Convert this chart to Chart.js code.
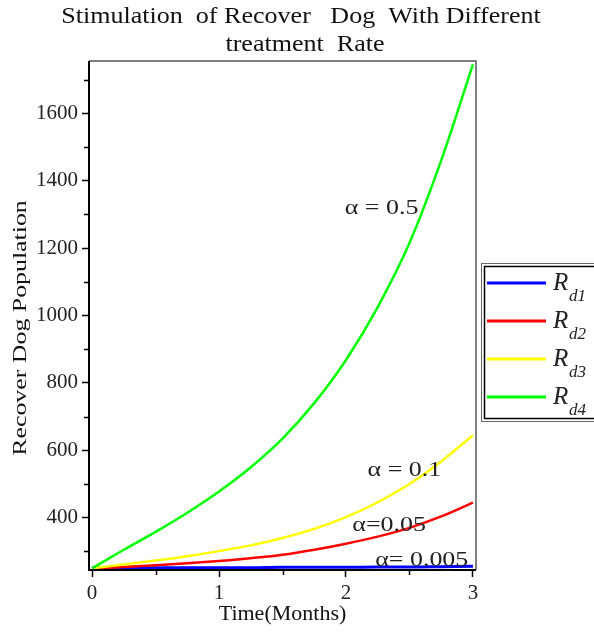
<!DOCTYPE html>
<html>
<head>
<meta charset="utf-8">
<script src="https://cdn.jsdelivr.net/npm/chart.js@4.4.1/dist/chart.umd.min.js"></script>
<style>
  html, body { margin: 0; padding: 0; background: #fff; }
  #wrap { width: 594px; height: 632px; }
</style>
</head>
<body>
<div id="wrap"><canvas id="dogChart" width="594" height="632"></canvas></div>
<script>
// time in months
var months = [0, 0.25, 0.5, 0.75, 1, 1.25, 1.5, 1.75, 2, 2.25, 2.5, 2.75, 3];

// recovered dog population, one list per treatment rate
var rd1 = [252, 252, 252, 252, 252, 252, 253, 253, 253, 254, 254, 255, 256];      // alpha = 0.005
var rd2 = [250, 254, 259, 265, 272, 280, 290, 305, 323, 344, 370, 404, 445];      // alpha = 0.05
var rd3 = [250, 261, 273, 286, 301, 318, 340, 367, 402, 446, 500, 567, 645];      // alpha = 0.1
var rd4 = [250, 305, 358, 415, 478, 550, 635, 740, 868, 1025, 1215, 1460, 1745];  // alpha = 0.5

var seriesSubs = ["d1", "d2", "d3", "d4"];
var seriesColors = ["#0000ff", "#ff0000", "#ffff00", "#00ff00"];
var alphaLabels = ["\u03b1= 0.005", "\u03b1=0.05", "\u03b1 = 0.1", "\u03b1 = 0.5"];

var xTicks = [0, 1, 2, 3];
var yTicks = [400, 600, 800, 1000, 1200, 1400, 1600];

var serif = "'Liberation Serif', 'Times New Roman', serif";

function toPoints(vals) {
    return months.map(function (m, i) { return { x: m, y: vals[i] }; });
}

var seriesValues = [rd1, rd2, rd3, rd4];
var datasets = [];
seriesValues.forEach(function (vals, i) {
    datasets.push({
        label: "R" + seriesSubs[i],
        data: toPoints(vals),
        borderColor: seriesColors[i],
        borderWidth: i === 0 ? 3 : 2.5,
        pointRadius: 0,
        fill: false,
        cubicInterpolationMode: "monotone",
        order: 4 - i
    });
});

// stretched text helper (the picture's text is a bit wider than tall)
function drawText(ctx, str, x, y, font, sx, align) {
    ctx.save();
    ctx.font = font;
    ctx.textBaseline = "middle";
    ctx.textAlign = align || "left";
    ctx.translate(x, y);
    ctx.scale(sx, 1);
    ctx.fillText(str, 0, 0);
    ctx.restore();
}

var overlay = {
    id: "overlay",
    afterDraw: function (chart) {
        var ctx = chart.ctx;
        var a = chart.chartArea;
        var xs = chart.scales.x, ys = chart.scales.y;
        ctx.save();

        // minor ticks
        ctx.strokeStyle = "#000";
        ctx.lineWidth = 1.5;
        ctx.beginPath();
        for (var v = 300; v <= 1700; v += 200) {
            var py = Math.round(ys.getPixelForValue(v)) + 0.5;
            ctx.moveTo(a.left - 5, py);
            ctx.lineTo(a.left, py);
        }
        [0.5, 1.5, 2.5].forEach(function (t) {
            var px = Math.round(xs.getPixelForValue(t)) + 0.5;
            ctx.moveTo(px, a.bottom);
            ctx.lineTo(px, a.bottom + 5);
        });
        ctx.stroke();

        // plot box
        ctx.strokeStyle = "#555";
        ctx.lineWidth = 1.5;
        ctx.beginPath();
        ctx.moveTo(a.left, a.top);
        ctx.lineTo(a.right, a.top);
        ctx.lineTo(a.right, a.bottom);
        ctx.stroke();
        ctx.strokeStyle = "#000";
        ctx.lineWidth = 2;
        ctx.beginPath();
        ctx.moveTo(a.left, a.top);
        ctx.lineTo(a.left, a.bottom);
        ctx.lineTo(a.right, a.bottom);
        ctx.stroke();

        // alpha annotations
        ctx.fillStyle = "#222";
        var annot = [[2.23, 275], [2.05, 379], [2.17, 540], [1.99, 1319]];
        annot.forEach(function (p, i) {
            drawText(ctx, alphaLabels[i], xs.getPixelForValue(p[0]), ys.getPixelForValue(p[1]),
                "22px " + serif, 1.18, "left");
        });

        // title
        ctx.fillStyle = "#111";
        drawText(ctx, "Stimulation  of Recover   Dog  With Different", 301, 17, "24px " + serif, 1.085, "center");
        drawText(ctx, "treatment  Rate", 305, 45, "24px " + serif, 1.085, "center");

        // axis titles
        drawText(ctx, "Time(Months)", (a.left + a.right) / 2, 615, "20px " + serif, 1.1, "center");
        ctx.save();
        ctx.translate(21, 328);
        ctx.rotate(-Math.PI / 2);
        drawText(ctx, "Recover Dog Population", 0, 0, "19px " + serif, 1.36, "center");
        ctx.restore();

        // legend
        ctx.fillStyle = "#fff";
        ctx.fillRect(481, 263, 120, 159);
        ctx.strokeStyle = "#666";
        ctx.lineWidth = 1;
        ctx.strokeRect(481.5, 263.5, 130, 158);
        ctx.strokeStyle = "#000";
        ctx.lineWidth = 1.5;
        ctx.strokeRect(484.5, 266.5, 130, 152);
        seriesColors.forEach(function (c, i) {
            var ly = 283 + i * 38;
            ctx.strokeStyle = c;
            ctx.lineWidth = 3;
            ctx.beginPath();
            ctx.moveTo(487, ly);
            ctx.lineTo(546, ly);
            ctx.stroke();
            ctx.fillStyle = "#222";
            ctx.textBaseline = "alphabetic";
            ctx.textAlign = "left";
            ctx.font = "italic 25px " + serif;
            ctx.fillText("R", 553, ly + 7);
            ctx.font = "italic 17px " + serif;
            ctx.fillText(seriesSubs[i], 569, ly + 18);
        });

        ctx.restore();
    }
};

var ctx = document.getElementById("dogChart").getContext("2d");
new Chart(ctx, {
    type: "line",
    data: { datasets: datasets },
    options: {
        responsive: false,
        animation: false,
        devicePixelRatio: 1,
        layout: { padding: { top: 61, right: 118, left: 0, bottom: 0 } },
        plugins: {
            legend: { display: false },
            title: { display: false },
            tooltip: { enabled: false }
        },
        scales: {
            x: {
                type: "linear",
                min: -0.024,
                max: 3.024,
                afterFit: function (s) { s.height = 62; },
                afterBuildTicks: function (s) { s.ticks = xTicks.map(function (v) { return { value: v }; }); },
                border: { display: false },
                grid: { display: true, drawOnChartArea: false, drawTicks: true, tickLength: 7, tickColor: "#000", tickWidth: 1.5 },
                ticks: { color: "#222", padding: 4, maxRotation: 0, font: { family: serif, size: 21 },
                         callback: function (v) { return String(v); } }
            },
            y: {
                type: "linear",
                min: 245,
                max: 1755,
                afterFit: function (s) { s.width = 89; },
                afterBuildTicks: function (s) { s.ticks = yTicks.map(function (v) { return { value: v }; }); },
                border: { display: false },
                grid: { display: true, drawOnChartArea: false, drawTicks: true, tickLength: 7, tickColor: "#000", tickWidth: 1.5 },
                ticks: { color: "#222", padding: 4, font: { family: serif, size: 21 },
                         callback: function (v) { return String(v); } }
            }
        }
    },
    plugins: [overlay]
});
</script>
</body>
</html>
